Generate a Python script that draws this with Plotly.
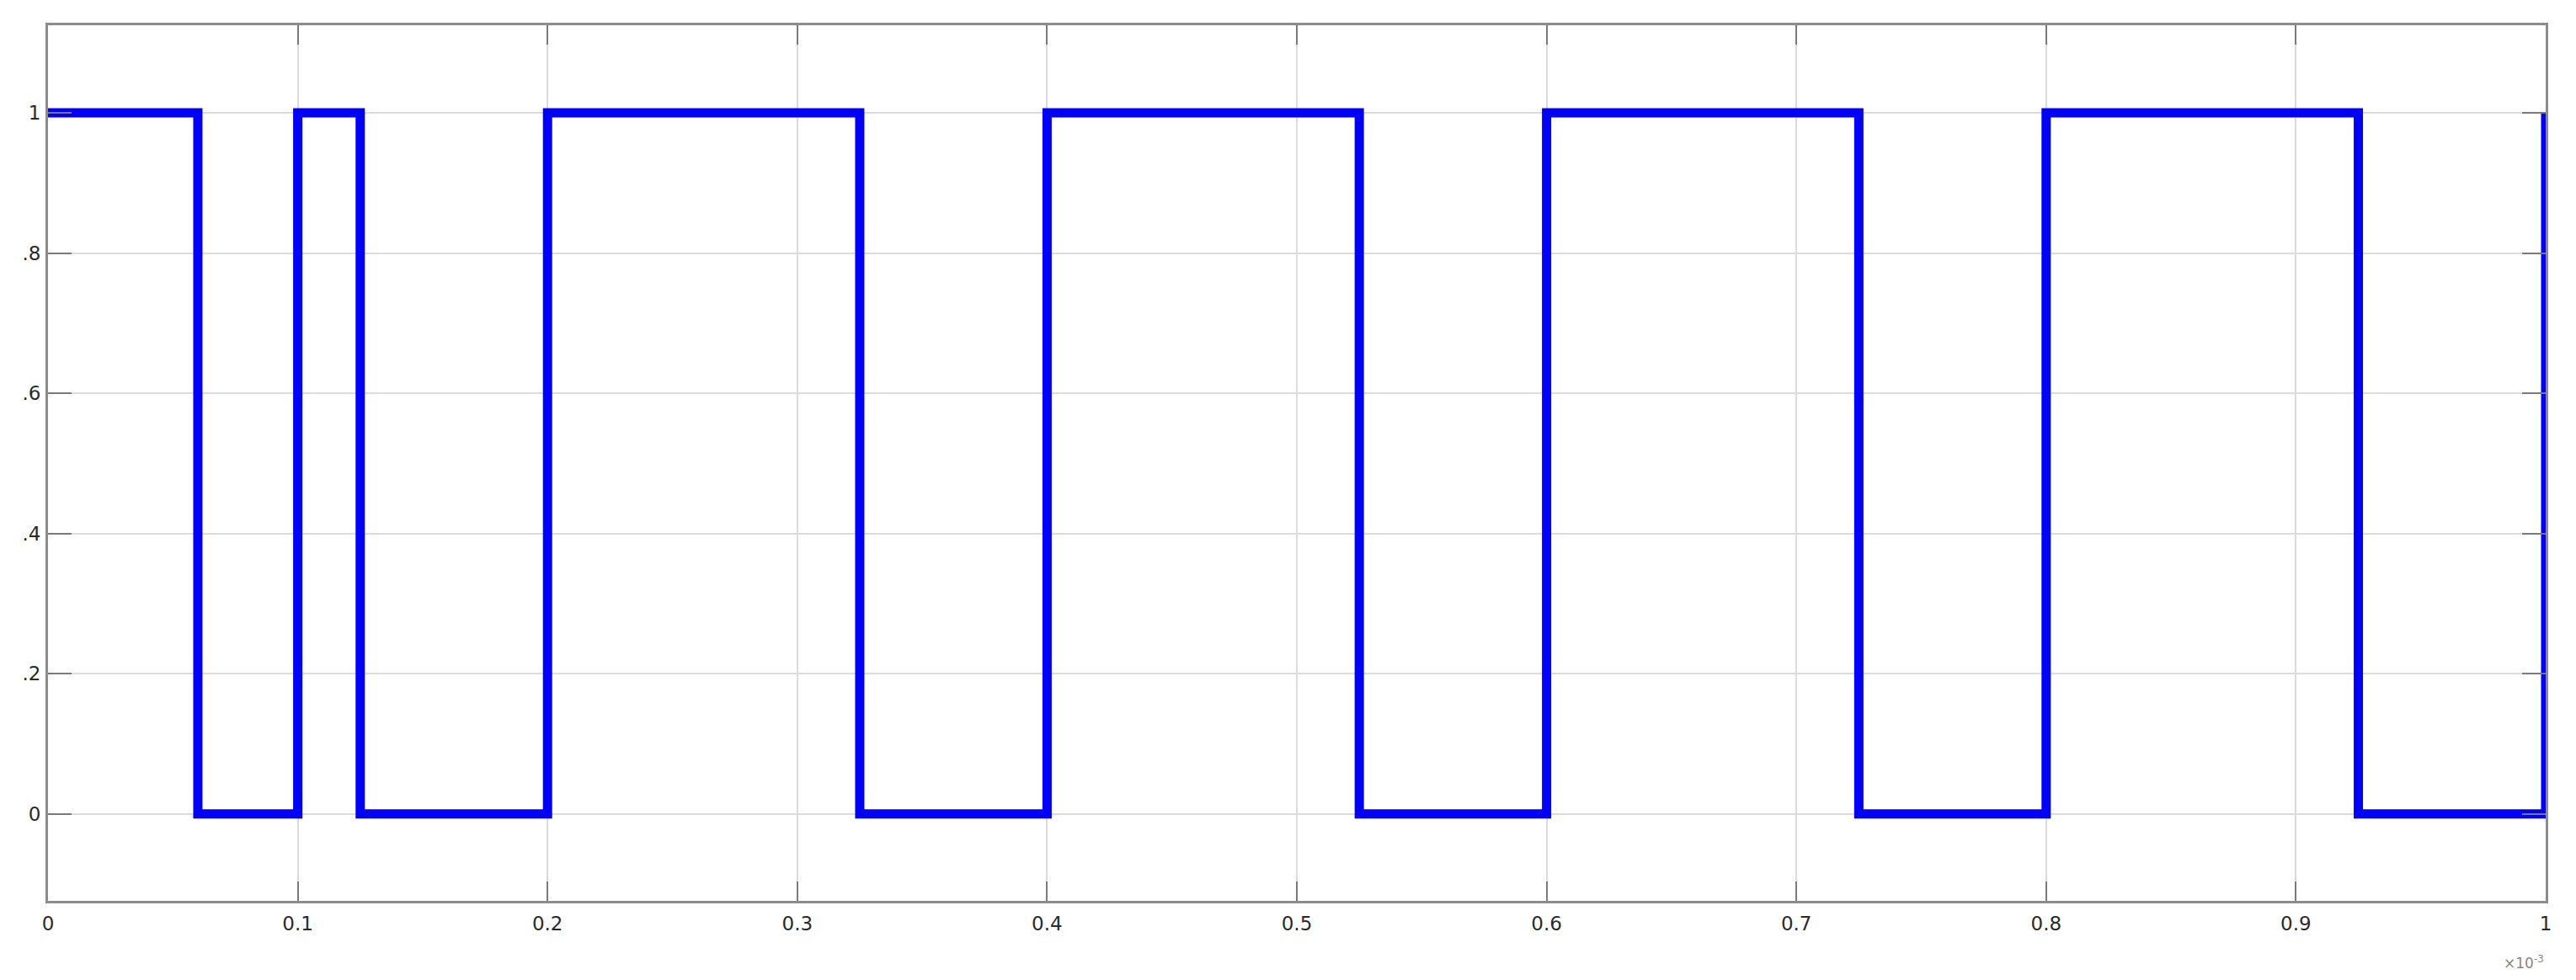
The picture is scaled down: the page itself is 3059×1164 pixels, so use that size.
"""
Square wave (PWM-like) signal, MATLAB-style axes, x in units of 1e-3 s.
"""
import plotly.graph_objects as go


# --- Signal data (time in units of 1e-3 s)
switch_times = [0, 0.06, 0.1, 0.125, 0.2, 0.325, 0.4, 0.525, 0.6, 0.725, 0.8, 0.925, 1.0]
levels = [1, 0, 1, 0, 1, 0, 1, 0, 1, 0, 1, 0, 1]

x_tick_vals = [0, 0.1, 0.2, 0.3, 0.4, 0.5, 0.6, 0.7, 0.8, 0.9, 1.0]
x_tick_text = ["0", "0.1", "0.2", "0.3", "0.4", "0.5", "0.6", "0.7", "0.8", "0.9", "1"]
y_tick_vals = [0, 0.2, 0.4, 0.6, 0.8, 1.0]
y_tick_text = ["0", ".2", ".4", ".6", ".8", "1"]  # leading zeros are cut off in the original

GRID_COLOR = "#dcdcdc"
AXIS_COLOR = "#8c8c8c"
TEXT_COLOR = "#2a2a2a"


def main():
    fig = go.Figure()

    fig.add_scatter(
        x=switch_times,
        y=levels,
        mode="lines",
        line=dict(color="#0000ff", width=11, shape="hv"),
        showlegend=False,
        cliponaxis=True,
    )

    axis_common = dict(
        automargin=False,
        showgrid=True,
        gridcolor=GRID_COLOR,
        gridwidth=2,
        zeroline=False,
        showline=True,
        linecolor=AXIS_COLOR,
        linewidth=3,
        mirror="allticks",
        ticks="inside",
        tickcolor="#7a7a7a",
        tickwidth=2,
        tickfont=dict(family="DejaVu Sans", size=23, color=TEXT_COLOR),
    )

    fig.update_xaxes(
        range=[0, 1.0],
        tickvals=x_tick_vals,
        ticktext=x_tick_text,
        ticklen=23,
        ticklabelstandoff=4,
        **axis_common,
    )
    fig.update_yaxes(
        range=[-0.124, 1.125],
        tickvals=y_tick_vals,
        ticktext=y_tick_text,
        ticklen=28,
        ticklabelstandoff=1,
        **axis_common,
    )

    # --- Exponent label (mostly cut off in the original)
    fig.add_annotation(
        text="×10<sup>-3</sup>",
        xref="paper", yref="paper",
        x=1.0, y=-0.058,
        xanchor="right", yanchor="top",
        showarrow=False,
        font=dict(family="DejaVu Sans", size=17, color="#888888"),
    )

    fig.update_layout(
        width=3059,
        height=1164,
        margin=dict(l=57, r=36, t=30, b=94),
        paper_bgcolor="white",
        plot_bgcolor="white",
    )

    # --- Remove the default page margin so the figure sits at the window's corner
    fig.write_html(
        "out.html",
        config={"displayModeBar": False},
        post_script="document.body.style.margin = '0';",
    )


if __name__ == "__main__":
    main()
